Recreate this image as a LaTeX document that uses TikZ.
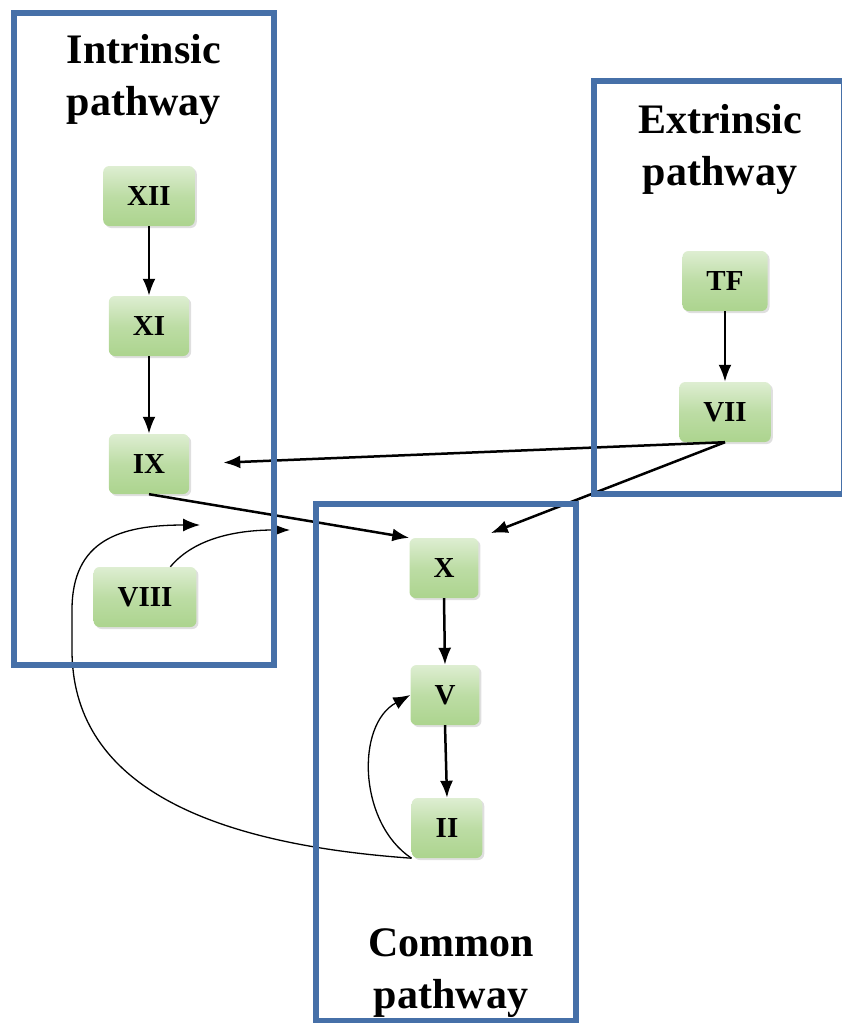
\documentclass[tikz,border=0pt]{standalone}
\usepackage{fontspec}
\setmainfont{Liberation Serif}
\usepackage{tikz}
\usetikzlibrary{arrows.meta,shadows}
\usepackage{xcolor}
\definecolor{boxblue}{RGB}{70,112,168}
\definecolor{factorgreen}{RGB}{172,212,142}
\colorlet{factortop}{factorgreen!40!white}
\tikzset{
  >={Latex[length=17pt,width=13pt]}, % filled heads
  factor/.style={rectangle,rounded corners=6pt,minimum width=68pt,minimum height=60pt,
                 inner xsep=24pt,top color=factortop,bottom color=factorgreen,
                 middle color=factorgreen!80!white,
                 drop shadow={opacity=0.25,shadow xshift=2pt,shadow yshift=-2pt},
                 font=\fontsize{29}{32}\selectfont\bfseries},
  frame/.style={draw=boxblue,line width=6pt},
  title/.style={align=center,font=\fontsize{42}{52}\selectfont\bfseries},
  connect arrow/.style={->,line width=2.5pt,black},
  feedback arrow/.style={->,line width=1.3pt,black}
}

\begin{document}
\begin{tikzpicture}[x=1pt,y=-1pt]
  \useasboundingbox (0,0) rectangle (841,1023);

  % Titles of the three pathways (base = last line)
  \node[title,anchor=base] (intrinsic) at (144,115) {Intrinsic\\pathway};
  \node[title,anchor=base] (extrinsic) at (720,185) {Extrinsic\\pathway};
  \node[title,anchor=base] (common) at (451,1008) {Common\\pathway};

  % Intrinsic factors
  \foreach \f/\y in {XII/196,XI/326,IX/464}{%
    \node[factor] (\f) at (149,\y) {\f};
  }
  \node[factor] (VIII) at (145,597) {VIII};
  % Extrinsic factors
  \node[factor] (TF) at (725,281) {TF};
  \node[factor] (VII) at (725,412) {VII};
  % Common factors
  \node[factor] (X) at (444,568) {X};
  \node[factor] (V) at (445,695) {V};
  \node[factor] (II) at (447,828) {II};

  % Cascade arrows
  \draw[connect arrow] (XII.south) -- (XI.north);
  \draw[connect arrow] (XI.south) -- (IX.north);
  \draw[connect arrow] (TF.south) -- (VII.north);
  \draw[connect arrow] (X.south) -- (V.north);
  \draw[connect arrow] (V.south) -- (II.north);
  \draw[connect arrow,shorten >=34pt] (VII.south) -- (IX.east);
  \draw[connect arrow,shorten >=13pt] (VII.south) -- (X.north east);
  \draw[connect arrow] (IX.south) -- (X.north west);

  % Feedback from thrombin and VIII
  \coordinate (viii act) at (200,525);
  \coordinate (x act) at (290,530);
  \draw[feedback arrow] (II.south west) .. controls +(-53,-35) and +(-55,30) .. (V.west);
  \draw[feedback arrow] (II.south west) .. controls +(-213,-15) and (72,780) .. (72,650)
        -- (72,610) .. controls (72,540) and (120,525) .. (viii act);
  \draw[feedback arrow] (VIII.50) .. controls +(25,-30) and +(-50,0) .. (x act);

  % Frames
  \draw[frame] (14,13) rectangle (274,665);
  \draw[frame] (594,81) rectangle (844,494);
  \draw[frame] (316,504) rectangle (576,1021);
\end{tikzpicture}
\end{document}
